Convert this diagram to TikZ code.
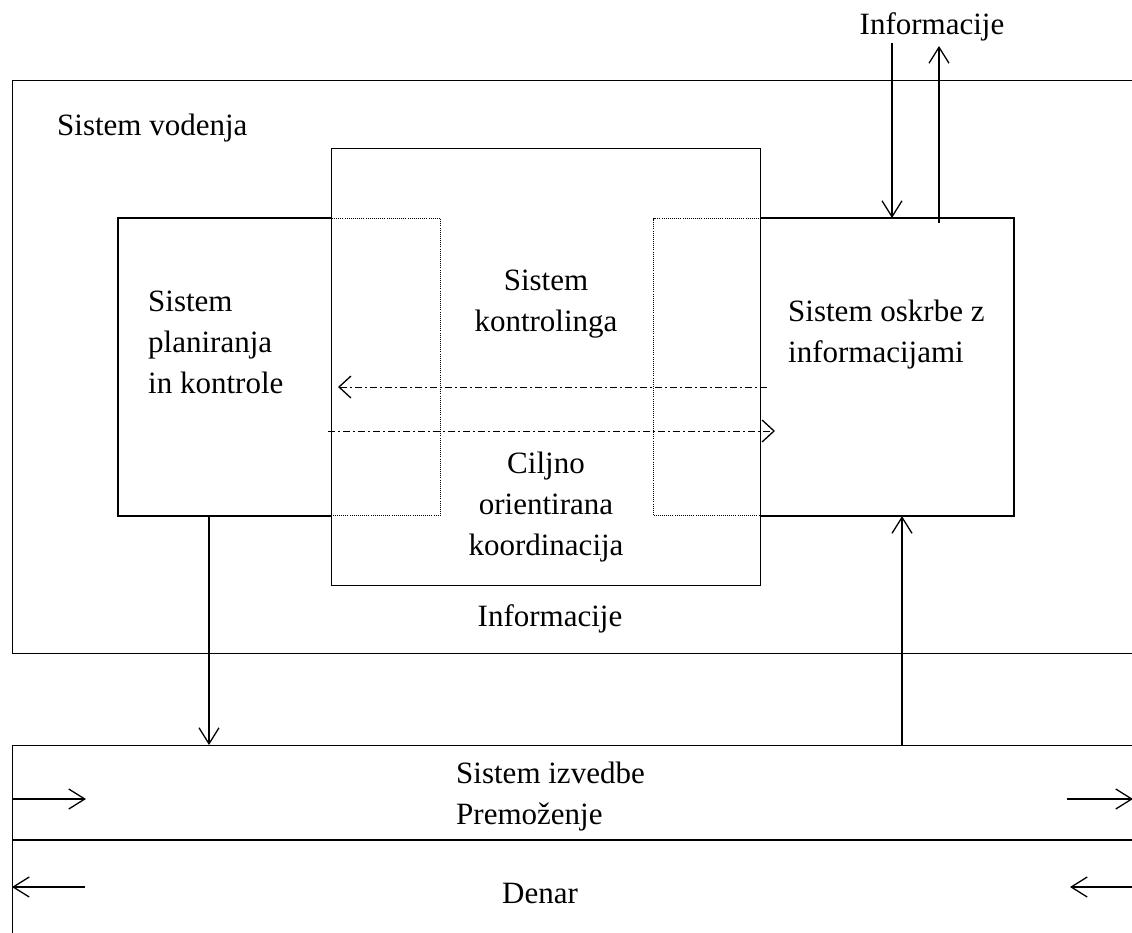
\documentclass[tikz,border=0pt]{standalone}
\usepackage{fontspec}
\setmainfont{Liberation Serif}
\usetikzlibrary{arrows.meta}

\begin{document}
\begin{tikzpicture}[x=1pt,y=-1pt,
  box/.style={draw,line width=1.3pt},
  part/.style={draw,line width=1.1pt,dash pattern=on 1pt off 1.1pt},
  txt/.style={font=\fontsize{31}{41}\selectfont,inner sep=0pt},
  flow/.style={line width=1.3pt,-{Straight Barb[length=16pt,width=20pt,line width=1.3pt]}},
  info/.style={line width=1pt,dash pattern=on 7pt off 3pt on 2pt off 3pt,
    -{Straight Barb[length=12pt,width=22pt,line width=1.3pt,sep=0pt]}}]
\useasboundingbox (0,0) rectangle (1132,932);
\clip (0,0) rectangle (1132,932);
% boxes
\node[box,anchor=north west,minimum width=1150pt,minimum height=573pt] (vodenje) at (12,80) {};
\node[box,anchor=north west,minimum width=429pt,minimum height=437pt] (kontroling) at (331,148) {};
\node[part,anchor=north west,minimum width=322pt,minimum height=297pt] (plan) at (118,218) {};
\node[part,anchor=north west,minimum width=360pt,minimum height=297pt] (oskrba) at (653,218) {};
\draw[box] (kontroling.west |- plan.north) -| (plan.south west) -- (kontroling.west |- plan.south);
\draw[box] (kontroling.east |- oskrba.north) -| (oskrba.south east) -- (kontroling.east |- oskrba.south);
\node[box,anchor=north west,minimum width=1150pt,minimum height=220pt] (izvedba) at (12,745) {};
\coordinate (meja) at (12,840);
\draw[box] (meja) -- (meja -| izvedba.east);
% texts
\node[txt] (infozun) at (932,27) {Informacije};
\node[txt,anchor=west] (tvodenje) at (57,128) {Sistem vodenja};
\node[txt,anchor=west,align=left] (tplan) at (148,342) {Sistem\\planiranja\\in kontrole};
\node[txt,align=center] (tkontroling) at (546,304) {Sistem\\kontrolinga};
\node[txt,align=center] (tkoord) at (546,507) {Ciljno\\orientirana\\koordinacija};
\node[txt,anchor=west,align=left] (toskrba) at (788,335) {Sistem oskrbe z\\informacijami};
\node[txt] (infonot) at (550,619) {Informacije};
\node[txt,anchor=west,align=left] (tizvedba) at (456,797) {Sistem izvedbe\\Premoženje};
\node[txt] (tdenar) at (540,893) {Denar};
% information flows
\coordinate (vhod) at (892,43);
\coordinate (izhod) at (939,46);
\draw[flow] (vhod) -- (vhod |- oskrba.north);
\draw[flow] ([yshift=-5pt]izhod |- oskrba.north) -- (izhod);
\coordinate (dol) at (209,0);
\coordinate (gor) at (902,0);
\draw[flow] (plan.south -| dol) -- (izvedba.north -| dol);
\draw[flow] (izvedba.north -| gor) -- (oskrba.south -| gor);
\coordinate (d1) at (767,387);
\coordinate (l1) at (338,387);
\coordinate (l2) at (328,431);
\coordinate (d2) at (775,431);
\draw[info] (d1) -- (l1);
\draw[info] (l2) -- (d2);
% money and assets
\coordinate (pl) at (12,799);
\coordinate (pr) at (1067,799);
\coordinate (dl) at (12,887);
\coordinate (dr) at (1070,887);
\draw[flow] (pl) -- ++(74,0);
\draw[flow] (pr) -- ++(66,0);
\draw[flow] ([xshift=73pt]dl) -- (dl);
\draw[flow] ([xshift=64pt]dr) -- (dr);
\end{tikzpicture}
\end{document}
